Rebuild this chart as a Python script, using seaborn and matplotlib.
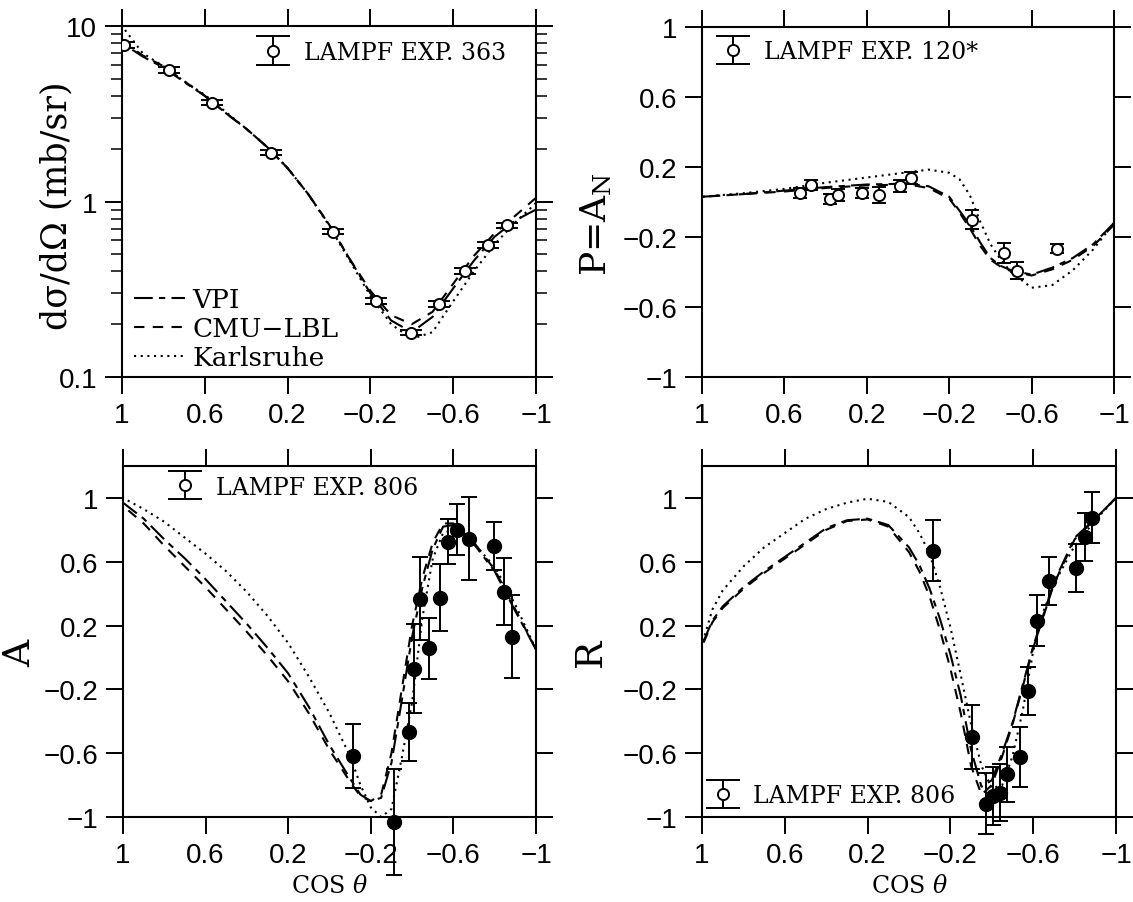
#!/usr/bin/env python3
'''
Four panel pi-N observables vs cos(theta): dsigma/dOmega, P=A_N, A, R
with VPI / CMU-LBL / Karlsruhe curves and LAMPF data
'''
import numpy as np
import pandas as pd
import seaborn as sns
import matplotlib.pyplot as plt
from matplotlib.ticker import FixedLocator, FuncFormatter, LogLocator, NullFormatter
from matplotlib.container import ErrorbarContainer
from matplotlib.legend_handler import HandlerErrorbar

#-------------- data --------------
# top-left: differential cross section (mb/sr)
xs_x = [1.0, 0.9, 0.8, 0.7, 0.6, 0.5, 0.4, 0.3, 0.2, 0.1, 0.0,
        -0.1, -0.2, -0.3, -0.4, -0.5, -0.6, -0.7, -0.8, -0.9, -1.0]
xs_vpi = [8.0, 6.7, 5.8, 4.8, 4.0, 3.2, 2.6, 2.05, 1.55, 1.1, 0.74,
          0.47, 0.30, 0.21, 0.18, 0.22, 0.32, 0.46, 0.63, 0.78, 0.90]
xs_cmu = [8.2, 6.8, 5.9, 4.85, 4.0, 3.2, 2.6, 2.05, 1.55, 1.1, 0.74,
          0.47, 0.31, 0.225, 0.20, 0.235, 0.34, 0.49, 0.66, 0.83, 1.05]
xs_ka = [10.0, 7.0, 5.9, 4.85, 4.05, 3.25, 2.6, 2.05, 1.55, 1.1, 0.73,
         0.46, 0.29, 0.20, 0.165, 0.18, 0.27, 0.40, 0.57, 0.76, 0.98]
xs_pts_x = [0.99, 0.772, 0.564, 0.279, -0.018, -0.227, -0.395, -0.530, -0.658, -0.770, -0.858]
xs_pts_y = [7.8, 5.61, 3.66, 1.90, 0.673, 0.271, 0.179, 0.261, 0.402, 0.565, 0.731]

# top-right: polarization P = A_N
p_x = [1.0, 0.8, 0.6, 0.4, 0.2, 0.0, -0.1, -0.2, -0.25, -0.3, -0.35,
       -0.4, -0.45, -0.5, -0.6, -0.7, -0.8, -0.9, -1.0]
p_vpi = [0.03, 0.045, 0.065, 0.085, 0.10, 0.105, 0.09, 0.03, -0.05, -0.13, -0.23,
         -0.32, -0.365, -0.39, -0.415, -0.375, -0.32, -0.24, -0.12]
p_cmu = [0.03, 0.045, 0.06, 0.08, 0.095, 0.10, 0.08, 0.02, -0.06, -0.15, -0.25,
         -0.33, -0.37, -0.395, -0.42, -0.385, -0.33, -0.25, -0.13]
p_ka = [0.03, 0.05, 0.075, 0.11, 0.14, 0.17, 0.185, 0.167, 0.13, 0.04, -0.11,
        -0.24, -0.33, -0.40, -0.49, -0.475, -0.39, -0.27, -0.12]
p_pts_x = [0.526, 0.469, 0.379, 0.340, 0.221, 0.141, 0.038, -0.015, -0.313, -0.468, -0.530, -0.721]
p_pts_y = [0.052, 0.096, 0.018, 0.039, 0.052, 0.039, 0.091, 0.138, -0.100, -0.291, -0.392, -0.266]
p_pts_e = [0.03, 0.03, 0.03, 0.035, 0.03, 0.045, 0.035, 0.035, 0.055, 0.055, 0.05, 0.025]

# bottom-left: spin rotation A
a_x = [1.0, 0.9, 0.8, 0.7, 0.6, 0.5, 0.4, 0.3, 0.2, 0.1, 0.0, -0.1, -0.15,
       -0.2, -0.25, -0.3, -0.35, -0.4, -0.45, -0.5, -0.55, -0.6, -0.7, -0.8, -0.9, -1.0]
a_vpi = [0.97, 0.87, 0.74, 0.62, 0.49, 0.35, 0.21, 0.06, -0.10, -0.31, -0.55, -0.76, -0.86,
         -0.90, -0.88, -0.66, -0.27, 0.13, 0.44, 0.68, 0.82, 0.83, 0.71, 0.54, 0.29, 0.05]
a_cmu = [0.95, 0.84, 0.70, 0.57, 0.44, 0.30, 0.16, 0.01, -0.15, -0.35, -0.58, -0.78, -0.87,
         -0.90, -0.86, -0.60, -0.20, 0.20, 0.50, 0.72, 0.84, 0.84, 0.72, 0.55, 0.30, 0.05]
a_ka = [1.0, 0.93, 0.85, 0.75, 0.65, 0.54, 0.41, 0.26, 0.09, -0.12, -0.35, -0.62, -0.80,
        -0.94, -1.0, -0.95, -0.63, -0.28, 0.25, 0.62, 0.78, 0.80, 0.71, 0.57, 0.33, 0.05]
a_pts_x = [-0.115, -0.313, -0.384, -0.410, -0.440, -0.483, -0.537, -0.573, -0.618, -0.674, -0.795, -0.844, -0.884]
a_pts_y = [-0.617, -1.031, -0.467, -0.071, 0.368, 0.057, 0.374, 0.725, 0.800, 0.745, 0.700, 0.413, 0.130]
a_pts_e = [0.20, 0.33, 0.18, 0.28, 0.26, 0.19, 0.21, 0.14, 0.16, 0.26, 0.15, 0.21, 0.26]

# bottom-right: spin rotation R
r_x = [1.0, 0.95, 0.9, 0.8, 0.7, 0.6, 0.5, 0.4, 0.3, 0.2, 0.1, 0.0, -0.05, -0.1, -0.15,
       -0.2, -0.25, -0.3, -0.35, -0.4, -0.45, -0.5, -0.55, -0.6, -0.65, -0.7, -0.8, -0.9, -1.0]
r_vpi = [0.08, 0.23, 0.32, 0.44, 0.54, 0.63, 0.72, 0.81, 0.86, 0.87, 0.83, 0.69, 0.58, 0.43, 0.24,
         0.02, -0.24, -0.58, -0.81, -0.77, -0.60, -0.41, -0.17, 0.07, 0.27, 0.47, 0.75, 0.87, 1.0]
r_cmu = [0.07, 0.22, 0.31, 0.43, 0.53, 0.62, 0.71, 0.80, 0.855, 0.865, 0.82, 0.66, 0.54, 0.38, 0.17,
         -0.07, -0.35, -0.68, -0.86, -0.80, -0.62, -0.42, -0.18, 0.06, 0.26, 0.46, 0.74, 0.87, 1.0]
r_ka = [0.08, 0.30, 0.42, 0.57, 0.69, 0.78, 0.87, 0.93, 0.97, 0.995, 0.975, 0.88, 0.78, 0.65, 0.44,
        0.19, -0.11, -0.42, -0.68, -0.82, -0.80, -0.62, -0.33, 0.04, 0.29, 0.46, 0.70, 0.86, 1.0]
r_pts_x = [-0.114, -0.306, -0.373, -0.408, -0.438, -0.474, -0.536, -0.577, -0.616, -0.674, -0.805, -0.849, -0.885]
r_pts_y = [0.669, -0.50, -0.917, -0.869, -0.848, -0.733, -0.625, -0.2125, 0.229, 0.479, 0.5625, 0.756, 0.875]
r_pts_e = [0.19, 0.20, 0.19, 0.18, 0.18, 0.17, 0.19, 0.15, 0.16, 0.15, 0.15, 0.15, 0.16]

x_ticks = [1, 0.6, 0.2, -0.2, -0.6, -1]
lin_yticks = [-1, -0.6, -0.2, 0.2, 0.6, 1]

#-------------- style --------------
sns.set_theme(style='ticks')
plt.rcParams['font.family'] = ['DejaVu Serif']
plt.rcParams['mathtext.fontset'] = 'dejavuserif'
plt.rcParams['axes.linewidth'] = 1.5
plt.rcParams['text.color'] = 'black'
plt.rcParams['axes.labelcolor'] = 'black'

models = [('VPI', (0, (9, 3, 3, 3))), ('CMU\u2212LBL', (0, (5, 4))), ('Karlsruhe', (0, (1, 2.2)))]
fmt_num = FuncFormatter(lambda v, p: ('%g' % v).replace('-', '\u2212'))

fig = plt.figure(figsize=(11.33, 9.03), dpi=100)
W, H = 1133, 903
def add_ax(l, t, r, b):
    return fig.add_axes([l / W, 1 - b / H, (r - l) / W, (b - t) / H])

ax_xs = add_ax(122, 27, 536, 378)
ax_p = add_ax(702, 28, 1114, 378)
ax_a = add_ax(123, 467, 536, 818)
ax_r = add_ax(702, 467, 1116, 818)

def draw_curves(ax, x, ys):
    lines = []
    for (name, ls), y in zip(models, ys):
        df = pd.DataFrame({'x': x, 'y': y})
        sns.lineplot(data=df, x='x', y='y', ax=ax, color='black', lw=1.5,
                     linestyle=ls, estimator=None, label=name, legend=False)
        lines.append(ax.lines[-1])
    return lines

def style_axis(ax):
    ax.set_xlim(1, -1)
    ax.xaxis.set_major_locator(FixedLocator(x_ticks))
    ax.xaxis.set_major_formatter(fmt_num)
    ax.tick_params(which='major', direction='out', length=12, width=1.4,
                   top=True, right=True, labelsize=20, pad=6,
                   labelfontfamily='Liberation Sans', colors='black')
    for s in ax.spines.values():
        s.set_color('black')
    ax.set_xlabel('')

# proxy handle for the experiment legends (wide caps like the original key)
key = plt.gca().errorbar([np.nan], [np.nan], yerr=[np.nan], fmt='o', mfc='white', mec='black',
                         ms=8, mew=1.4, color='black', ecolor='black', elinewidth=1.4,
                         capsize=12, capthick=1.4)

def exp_legend(ax, text, anchor):
    leg = ax.legend([key], [text], loc='center left', bbox_to_anchor=anchor,
                    frameon=False, fontsize=17, handlelength=1.4, handletextpad=0.6,
                    borderpad=0, borderaxespad=0,
                    handler_map={ErrorbarContainer: HandlerErrorbar(xerr_size=0.6)})
    return leg

#-------------- top-left: cross section --------------
lines = draw_curves(ax_xs, xs_x, [xs_vpi, xs_cmu, xs_ka])
ax_xs.errorbar(xs_pts_x, xs_pts_y, yerr=[0.035 * v for v in xs_pts_y], fmt='o',
               mfc='white', mec='black', ms=8, mew=1.4, color='black',
               ecolor='black', elinewidth=1.4, capsize=8, capthick=1.4, zorder=5)
ax_xs.set_yscale('log')
ax_xs.set_ylim(0.1, 10)
style_axis(ax_xs)
ax_xs.yaxis.set_major_locator(FixedLocator([0.1, 1, 10]))
ax_xs.yaxis.set_major_formatter(fmt_num)
ax_xs.yaxis.set_minor_locator(LogLocator(base=10, subs=np.arange(2, 10)))
ax_xs.yaxis.set_minor_formatter(NullFormatter())
ax_xs.tick_params(which='minor', axis='y', direction='out', length=8, width=1.3,
                  left=True, right=True)
ax_xs.tick_params(which='minor', axis='x', bottom=False, top=False)
ax_xs.set_ylabel('d\u03c3/d\u03a9 (mb/sr)', fontsize=25)
ax_xs.yaxis.set_label_coords(-0.118, 0.49)
leg1 = exp_legend(ax_xs, 'LAMPF EXP. 363', (0.325, 0.925))
ax_xs.add_artist(leg1)
ax_xs.legend(lines, [m[0] for m in models], loc='lower left', bbox_to_anchor=(0.03, 0.02),
             frameon=False, fontsize=19, handlelength=1.9, handletextpad=0.3,
             labelspacing=0.15, borderpad=0, borderaxespad=0)

#-------------- top-right: polarization --------------
draw_curves(ax_p, p_x, [p_vpi, p_cmu, p_ka])
ax_p.errorbar(p_pts_x, p_pts_y, yerr=p_pts_e, fmt='o', mfc='white', mec='black',
              ms=8, mew=1.4, color='black', ecolor='black', elinewidth=1.4,
              capsize=5, capthick=1.4, zorder=5)
ax_p.set_ylim(-1, 1)
style_axis(ax_p)
ax_p.yaxis.set_major_locator(FixedLocator(lin_yticks))
ax_p.yaxis.set_major_formatter(fmt_num)
ax_p.set_ylabel('P=A$_\\mathrm{N}$', fontsize=26)
ax_p.yaxis.set_label_coords(-0.215, 0.44)
exp_legend(ax_p, 'LAMPF EXP. 120*', (0.035, 0.93))

#-------------- bottom-left: A --------------
draw_curves(ax_a, a_x, [a_vpi, a_cmu, a_ka])
ax_a.errorbar(a_pts_x, a_pts_y, yerr=a_pts_e, fmt='o', mfc='black', mec='black',
              ms=10, color='black', ecolor='black', elinewidth=1.4,
              capsize=6, capthick=1.4, zorder=5, clip_on=False)
ax_a.set_ylim(-1, 1.2)
style_axis(ax_a)
ax_a.yaxis.set_major_locator(FixedLocator(lin_yticks))
ax_a.yaxis.set_major_formatter(fmt_num)
ax_a.set_ylabel('A', fontsize=27)
ax_a.yaxis.set_label_coords(-0.205, 0.47)
ax_a.set_xlabel('COS $\\theta$', fontsize=17, labelpad=4)
exp_legend(ax_a, 'LAMPF EXP. 806', (0.11, 0.94))

#-------------- bottom-right: R --------------
draw_curves(ax_r, r_x, [r_vpi, r_cmu, r_ka])
ax_r.errorbar(r_pts_x, r_pts_y, yerr=r_pts_e, fmt='o', mfc='black', mec='black',
              ms=10, color='black', ecolor='black', elinewidth=1.4,
              capsize=6, capthick=1.4, zorder=5, clip_on=False)
ax_r.set_ylim(-1, 1.2)
style_axis(ax_r)
ax_r.yaxis.set_major_locator(FixedLocator(lin_yticks))
ax_r.yaxis.set_major_formatter(fmt_num)
ax_r.set_ylabel('R', fontsize=27)
ax_r.yaxis.set_label_coords(-0.225, 0.47)
ax_r.set_xlabel('COS $\\theta$', fontsize=17, labelpad=4)
exp_legend(ax_r, 'LAMPF EXP. 806', (0.01, 0.06))

plt.savefig('out.png', dpi=100, facecolor='white')
